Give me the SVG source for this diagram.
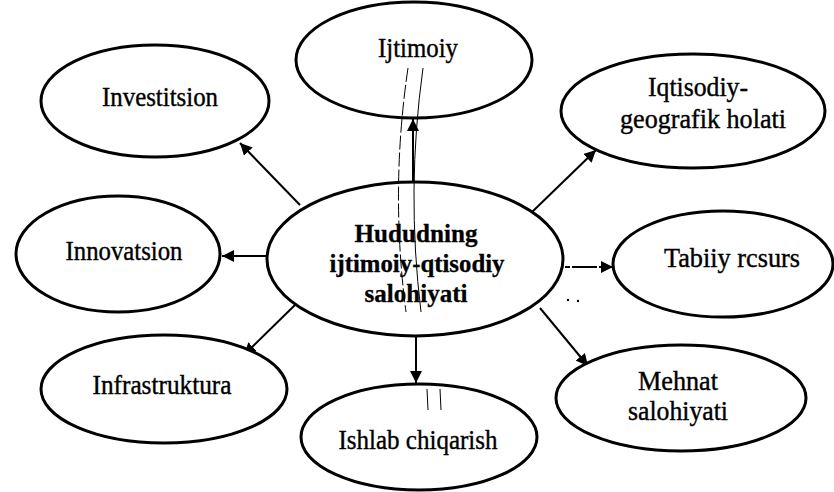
<svg xmlns="http://www.w3.org/2000/svg" width="834" height="492" viewBox="0 0 834 492">
<style>
.node{fill:#fff;stroke:#000;stroke-width:3}
.lbl{font-family:"Liberation Serif","Times New Roman",serif;font-size:28px;fill:#000;stroke:#000;stroke-width:0.4;text-anchor:middle}
.main{font-weight:bold;font-size:26px;stroke-width:0.3}
.con{stroke:#000;stroke-width:2;fill:none}
.art{stroke:#000;stroke-width:1;fill:none}
</style>
<defs>
<marker id="ahL" viewBox="0 0 10 10" refX="10" refY="5" markerWidth="12" markerHeight="12" markerUnits="userSpaceOnUse" orient="auto">
<path d="M0,0 L10,5 L0,10 z" fill="#000"/>
</marker>
</defs>
<rect width="834" height="492" fill="#fff"/>
<g id="connectors">
<line class="con" x1="300" y1="205" x2="240" y2="143" marker-end="url(#ahL)"/>
<line class="con" x1="413" y1="183" x2="413" y2="119" stroke-width="2.5" marker-end="url(#ahL)"/>
<line class="con" x1="532" y1="212" x2="596" y2="150" marker-end="url(#ahL)"/>
<line class="con" x1="266" y1="256" x2="222" y2="256" marker-end="url(#ahL)"/>
<line class="con" x1="565" y1="267" x2="613" y2="267" stroke-dasharray="5 2 20 0" marker-end="url(#ahL)"/>
<line class="con" x1="295" y1="305" x2="244" y2="355" marker-end="url(#ahL)"/>
<line class="con" x1="416" y1="336" x2="416" y2="383" marker-end="url(#ahL)"/>
<line class="con" x1="540" y1="308" x2="588" y2="366" marker-end="url(#ahL)"/>
</g>
<g id="n-investitsion"><ellipse class="node" cx="155" cy="101" rx="114" ry="56"/><text class="lbl" x="160" y="106" textLength="116" lengthAdjust="spacingAndGlyphs">Investitsion</text></g>
<g id="n-ijtimoiy"><ellipse class="node" cx="414" cy="60" rx="118" ry="58"/><text class="lbl" x="418" y="57" textLength="80" lengthAdjust="spacingAndGlyphs">Ijtimoiy</text></g>
<g id="n-iqtisodiy"><ellipse class="node" cx="693" cy="111" rx="132" ry="57"/><text class="lbl" x="698" y="96" textLength="100" lengthAdjust="spacingAndGlyphs">Iqtisodiy-</text><text class="lbl" x="703" y="128" textLength="166" lengthAdjust="spacingAndGlyphs">geografik holati</text></g>
<g id="n-innovatsion"><ellipse class="node" cx="118" cy="254" rx="102" ry="58"/><text class="lbl" x="124" y="260" textLength="117" lengthAdjust="spacingAndGlyphs">Innovatsion</text></g>
<g id="n-tabiiy"><ellipse class="node" cx="723" cy="264" rx="110" ry="53"/><text class="lbl" x="732" y="267" textLength="136" lengthAdjust="spacingAndGlyphs">Tabiiy rcsurs</text></g>
<g id="n-infrastruktura"><ellipse class="node" cx="164" cy="389" rx="123" ry="54"/><text class="lbl" x="162" y="394" textLength="139" lengthAdjust="spacingAndGlyphs">Infrastruktura</text></g>
<g id="n-ishlab"><ellipse class="node" cx="419" cy="437" rx="118" ry="53"/><text class="lbl" x="418" y="449" textLength="159" lengthAdjust="spacingAndGlyphs">Ishlab chiqarish</text></g>
<g id="n-mehnat"><ellipse class="node" cx="681" cy="398" rx="125" ry="53"/><text class="lbl" x="678" y="390" textLength="80" lengthAdjust="spacingAndGlyphs">Mehnat</text><text class="lbl" x="678" y="420" textLength="100" lengthAdjust="spacingAndGlyphs">salohiyati</text></g>
<g id="n-center"><ellipse class="node" cx="415" cy="259" rx="148" ry="77"/>
<text class="lbl main" x="416" y="242" textLength="123" lengthAdjust="spacingAndGlyphs">Hududning</text>
<text class="lbl main" x="417" y="272" textLength="175" lengthAdjust="spacingAndGlyphs">ijtimoiy-qtisodiy</text>
<text class="lbl main" x="416" y="302" textLength="103" lengthAdjust="spacingAndGlyphs">salohiyati</text></g>
<g id="artifacts">
<path class="art" d="M408,68 Q390,190 406,312" stroke-dasharray="14 3"/>
<path class="art" d="M423,68 Q406,190 421,312"/>
<line class="art" x1="427" y1="389" x2="428" y2="410" stroke-width="1.5"/>
<line class="art" x1="440" y1="389" x2="441" y2="410" stroke-width="1.5"/>
<circle cx="568" cy="300" r="1.2" fill="#000"/>
<circle cx="578" cy="301" r="1.2" fill="#000"/>
</g>
</svg>
